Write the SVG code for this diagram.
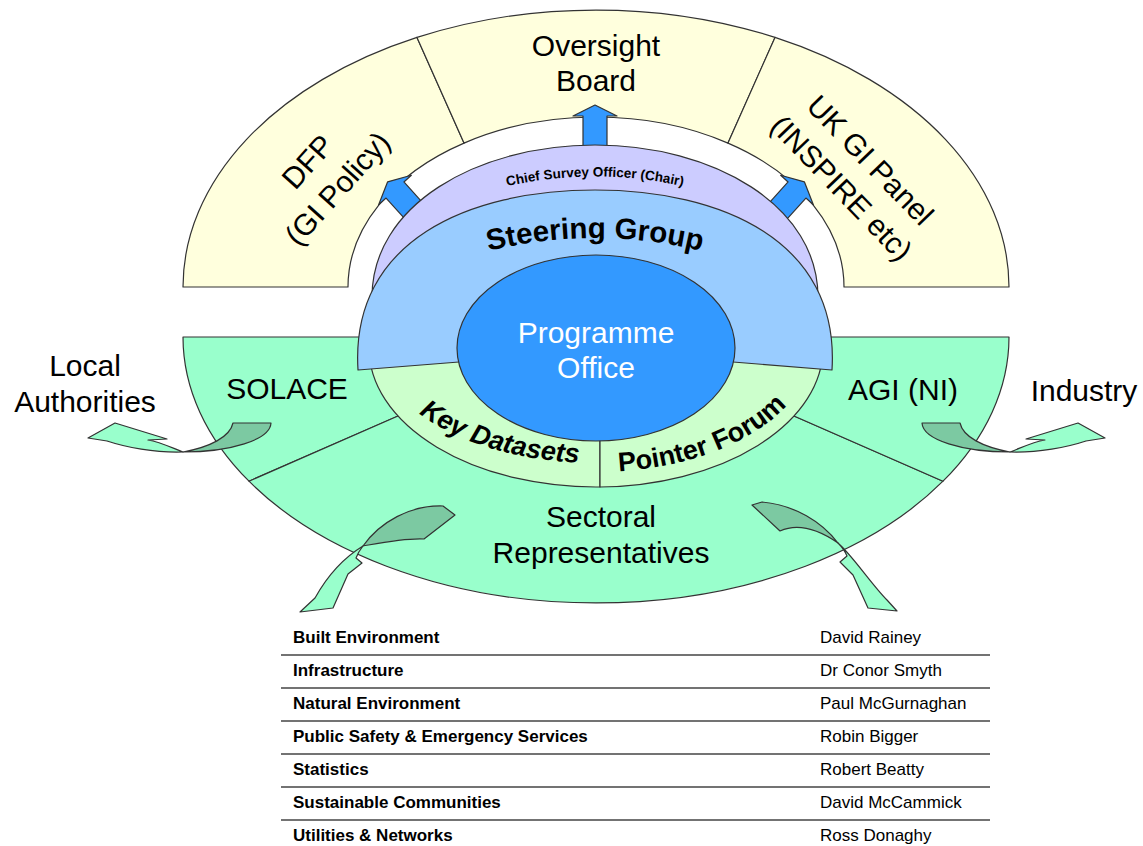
<svg xmlns="http://www.w3.org/2000/svg" width="1143" height="846" viewBox="0 0 1143 846">
  <style>
    .edge { stroke: #333; stroke-width: 1.2; stroke-linejoin: round; }
    .yellow { fill: #ffffdd; }
    .green { fill: #99ffcc; }
    .pale { fill: #ccffcc; }
    .violet { fill: #ccccff; }
    .sky { fill: #99ccff; }
    .blue { fill: #3399ff; }
    .fold { fill: #7cc9a2; }
    .lbl { font-family: "Liberation Sans", Arial, sans-serif; font-size: 30px; fill: #000; text-anchor: middle; }
    .arc { font-family: "Liberation Sans", Arial, sans-serif; font-weight: bold; fill: #000; text-anchor: middle; }
    .cell { font-family: "Liberation Sans", Arial, sans-serif; font-size: 17px; fill: #000; }
    .cell-b { font-weight: bold; }
    .rule { stroke: #444; stroke-width: 1.5; }
  </style>
  <defs>
    <path id="p-chief" d="M 470 196 Q 595 157 720 196"/>
    <path id="p-steer" d="M 450 262 Q 595 214 740 262"/>
    <path id="p-key" d="M 381 348 A 215 115 0 0 0 811 348"/>
    <path id="p-pointer" d="M 381 348 A 215 124 0 0 0 811 348"/>
    <path id="blue-arrow" d="M -12 45 L -12 0 L -22 0 L 0 -11 L 22 0 L 12 0 L 12 45 Z"/>
  </defs>

  <rect width="1143" height="846" fill="#fff"/>

  <!-- upper ring: oversight bodies -->
  <g id="dfp">
    <path class="yellow edge" d="M 183 287 A 413 277 0 0 1 417 37.4 L 464 143.1 A 248 170 0 0 0 348 287 Z"/>
    <g transform="translate(322.5,175) rotate(-48)">
      <text class="lbl" x="0" y="-9.5">DFP</text>
      <text class="lbl" x="0" y="30.5">(GI Policy)</text>
    </g>
  </g>
  <g id="oversight-board">
    <path class="yellow edge" d="M 417 37.4 A 413 277 0 0 1 775 37.4 L 728 143.1 A 248 170 0 0 0 464 143.1 Z"/>
    <text class="lbl" x="596" y="56">Oversight</text>
    <text class="lbl" x="596" y="91">Board</text>
  </g>
  <g id="uk-gi-panel">
    <path class="yellow edge" d="M 775 37.4 A 413 277 0 0 1 1009 287 L 844 287 A 248 170 0 0 0 728 143.1 Z"/>
    <g transform="translate(856,174) rotate(46)">
      <text class="lbl" x="0" y="-9.5">UK GI Panel</text>
      <text class="lbl" x="0" y="30.5">(INSPIRE etc)</text>
    </g>
  </g>

  <!-- reporting arrows up to the oversight ring -->
  <g id="connectors-up">
    <use href="#blue-arrow" class="blue edge" transform="translate(395,190) rotate(-42)"/>
    <use href="#blue-arrow" class="blue edge" transform="translate(595,116)"/>
    <use href="#blue-arrow" class="blue edge" transform="translate(797,190) rotate(42)"/>
  </g>

  <!-- chair band -->
  <g id="chief-survey-officer">
    <path class="violet edge" d="M 372 300 C 370 205, 478 145, 595 145 C 712 145, 820 205, 818 300 Z"/>
    <text class="arc" font-size="13.5"><textPath href="#p-chief" startOffset="50%">Chief Survey Officer (Chair)</textPath></text>
  </g>

  <!-- lower ring: stakeholder groups -->
  <g id="solace">
    <path class="green edge" d="M 183 337 A 413 266 0 0 0 249 481.2 L 398 416 L 400 337 Z"/>
    <text class="lbl" x="287" y="399">SOLACE</text>
  </g>
  <g id="sectoral-representatives">
    <path class="green edge" d="M 249 481.2 A 413 266 0 0 0 943 481.2 L 794 416 L 398 416 Z"/>
    <text class="lbl" x="601" y="527">Sectoral</text>
    <text class="lbl" x="601" y="563">Representatives</text>
  </g>
  <g id="agi-ni">
    <path class="green edge" d="M 1009 337 L 792 337 L 794 416 L 943 481.2 A 413 266 0 0 0 1009 337 Z"/>
    <text class="lbl" x="903" y="400">AGI (NI)</text>
  </g>

  <!-- inner working groups -->
  <g id="key-datasets">
    <path class="pale edge" d="M 369 348 A 227 139 0 0 0 600 487 L 600 348 Z"/>
    <text class="arc" font-size="27" font-style="italic"><textPath href="#p-key" startOffset="163">Key Datasets</textPath></text>
  </g>
  <g id="pointer-forum">
    <path class="pale edge" d="M 600 487 A 227 139 0 0 0 823 348 L 600 348 Z"/>
    <text class="arc" font-size="27"><textPath href="#p-pointer" startOffset="386">Pointer Forum</textPath></text>
  </g>

  <g id="steering-group">
    <path class="sky edge" d="M 358 370 C 350 240, 470 190, 595 190 C 720 190, 840 240, 832 370 L 733 362 L 459 362 Z"/>
    <text class="arc" font-size="29.5"><textPath href="#p-steer" startOffset="50%">Steering Group</textPath></text>
  </g>

  <g id="programme-office">
    <ellipse class="blue edge" cx="596" cy="348" rx="139" ry="93"/>
    <text class="lbl" x="596" y="343" style="fill:#fff">Programme</text>
    <text class="lbl" x="596" y="378" style="fill:#fff">Office</text>
  </g>

  <!-- outside parties -->
  <g id="local-authorities">
    <text class="lbl" x="85" y="376">Local</text>
    <text class="lbl" x="85" y="412">Authorities</text>
  </g>
  <g id="industry">
    <text class="lbl" x="1084" y="401">Industry</text>
  </g>

  <!-- twisted ribbon arrows out of the lower ring -->
  <g id="connectors-out">
    <g id="to-local-authorities">
      <path class="fold edge" d="M 233 423 L 271 423 C 270 440, 230 452, 183 452 C 210 447, 230 437, 233 423 Z"/>
      <path class="green edge" d="M 183 452 C 170 447, 160 442, 148 440 L 167 439 L 115 423 L 88 438 L 107 441 C 125 447, 155 453, 183 452 Z"/>
    </g>
    <g id="to-industry" transform="translate(1193,0) scale(-1,1)">
      <path class="fold edge" d="M 233 423 L 271 423 C 270 440, 230 452, 183 452 C 210 447, 230 437, 233 423 Z"/>
      <path class="green edge" d="M 183 452 C 170 447, 160 442, 148 440 L 167 439 L 115 423 L 88 438 L 107 441 C 125 447, 155 453, 183 452 Z"/>
    </g>
    <g id="to-sectors-left">
      <path class="fold edge" d="M 443 506 C 410 505, 380 522, 363 546 C 380 543, 405 538, 424 539 L 455 515 Z"/>
      <path class="green edge" d="M 363 546 C 359 551, 357 555, 356 558 L 362 563 L 348 574 L 333 608 L 300 612 L 315 598 C 325 580, 340 560, 363 546 Z"/>
    </g>
    <g id="to-sectors-right">
      <path class="fold edge" d="M 762 502 C 795 505, 822 522, 838 543 C 822 532, 800 522, 780 531 L 752 505 Z"/>
      <path class="green edge" d="M 838 543 C 852 555, 872 585, 887 600 L 897 611 L 868 608 L 853 575 L 840 562 L 847 556 C 845 551, 842 547, 838 543 Z"/>
    </g>
  </g>

  <!-- sector representatives list -->
  <g id="sector-table">
    <line class="rule" x1="281" y1="655" x2="990" y2="655"/>
    <line class="rule" x1="281" y1="688" x2="990" y2="688"/>
    <line class="rule" x1="281" y1="721" x2="990" y2="721"/>
    <line class="rule" x1="281" y1="754" x2="990" y2="754"/>
    <line class="rule" x1="281" y1="787" x2="990" y2="787"/>
    <line class="rule" x1="281" y1="820" x2="990" y2="820"/>
    <text class="cell cell-b" x="293" y="643">Built Environment</text>
    <text class="cell cell-b" x="293" y="676">Infrastructure</text>
    <text class="cell cell-b" x="293" y="709">Natural Environment</text>
    <text class="cell cell-b" x="293" y="742">Public Safety &amp; Emergency Services</text>
    <text class="cell cell-b" x="293" y="775">Statistics</text>
    <text class="cell cell-b" x="293" y="808">Sustainable Communities</text>
    <text class="cell cell-b" x="293" y="841">Utilities &amp; Networks</text>
    <text class="cell" x="820" y="643">David Rainey</text>
    <text class="cell" x="820" y="676">Dr Conor Smyth</text>
    <text class="cell" x="820" y="709">Paul McGurnaghan</text>
    <text class="cell" x="820" y="742">Robin Bigger</text>
    <text class="cell" x="820" y="775">Robert Beatty</text>
    <text class="cell" x="820" y="808">David McCammick</text>
    <text class="cell" x="820" y="841">Ross Donaghy</text>
  </g>
</svg>
